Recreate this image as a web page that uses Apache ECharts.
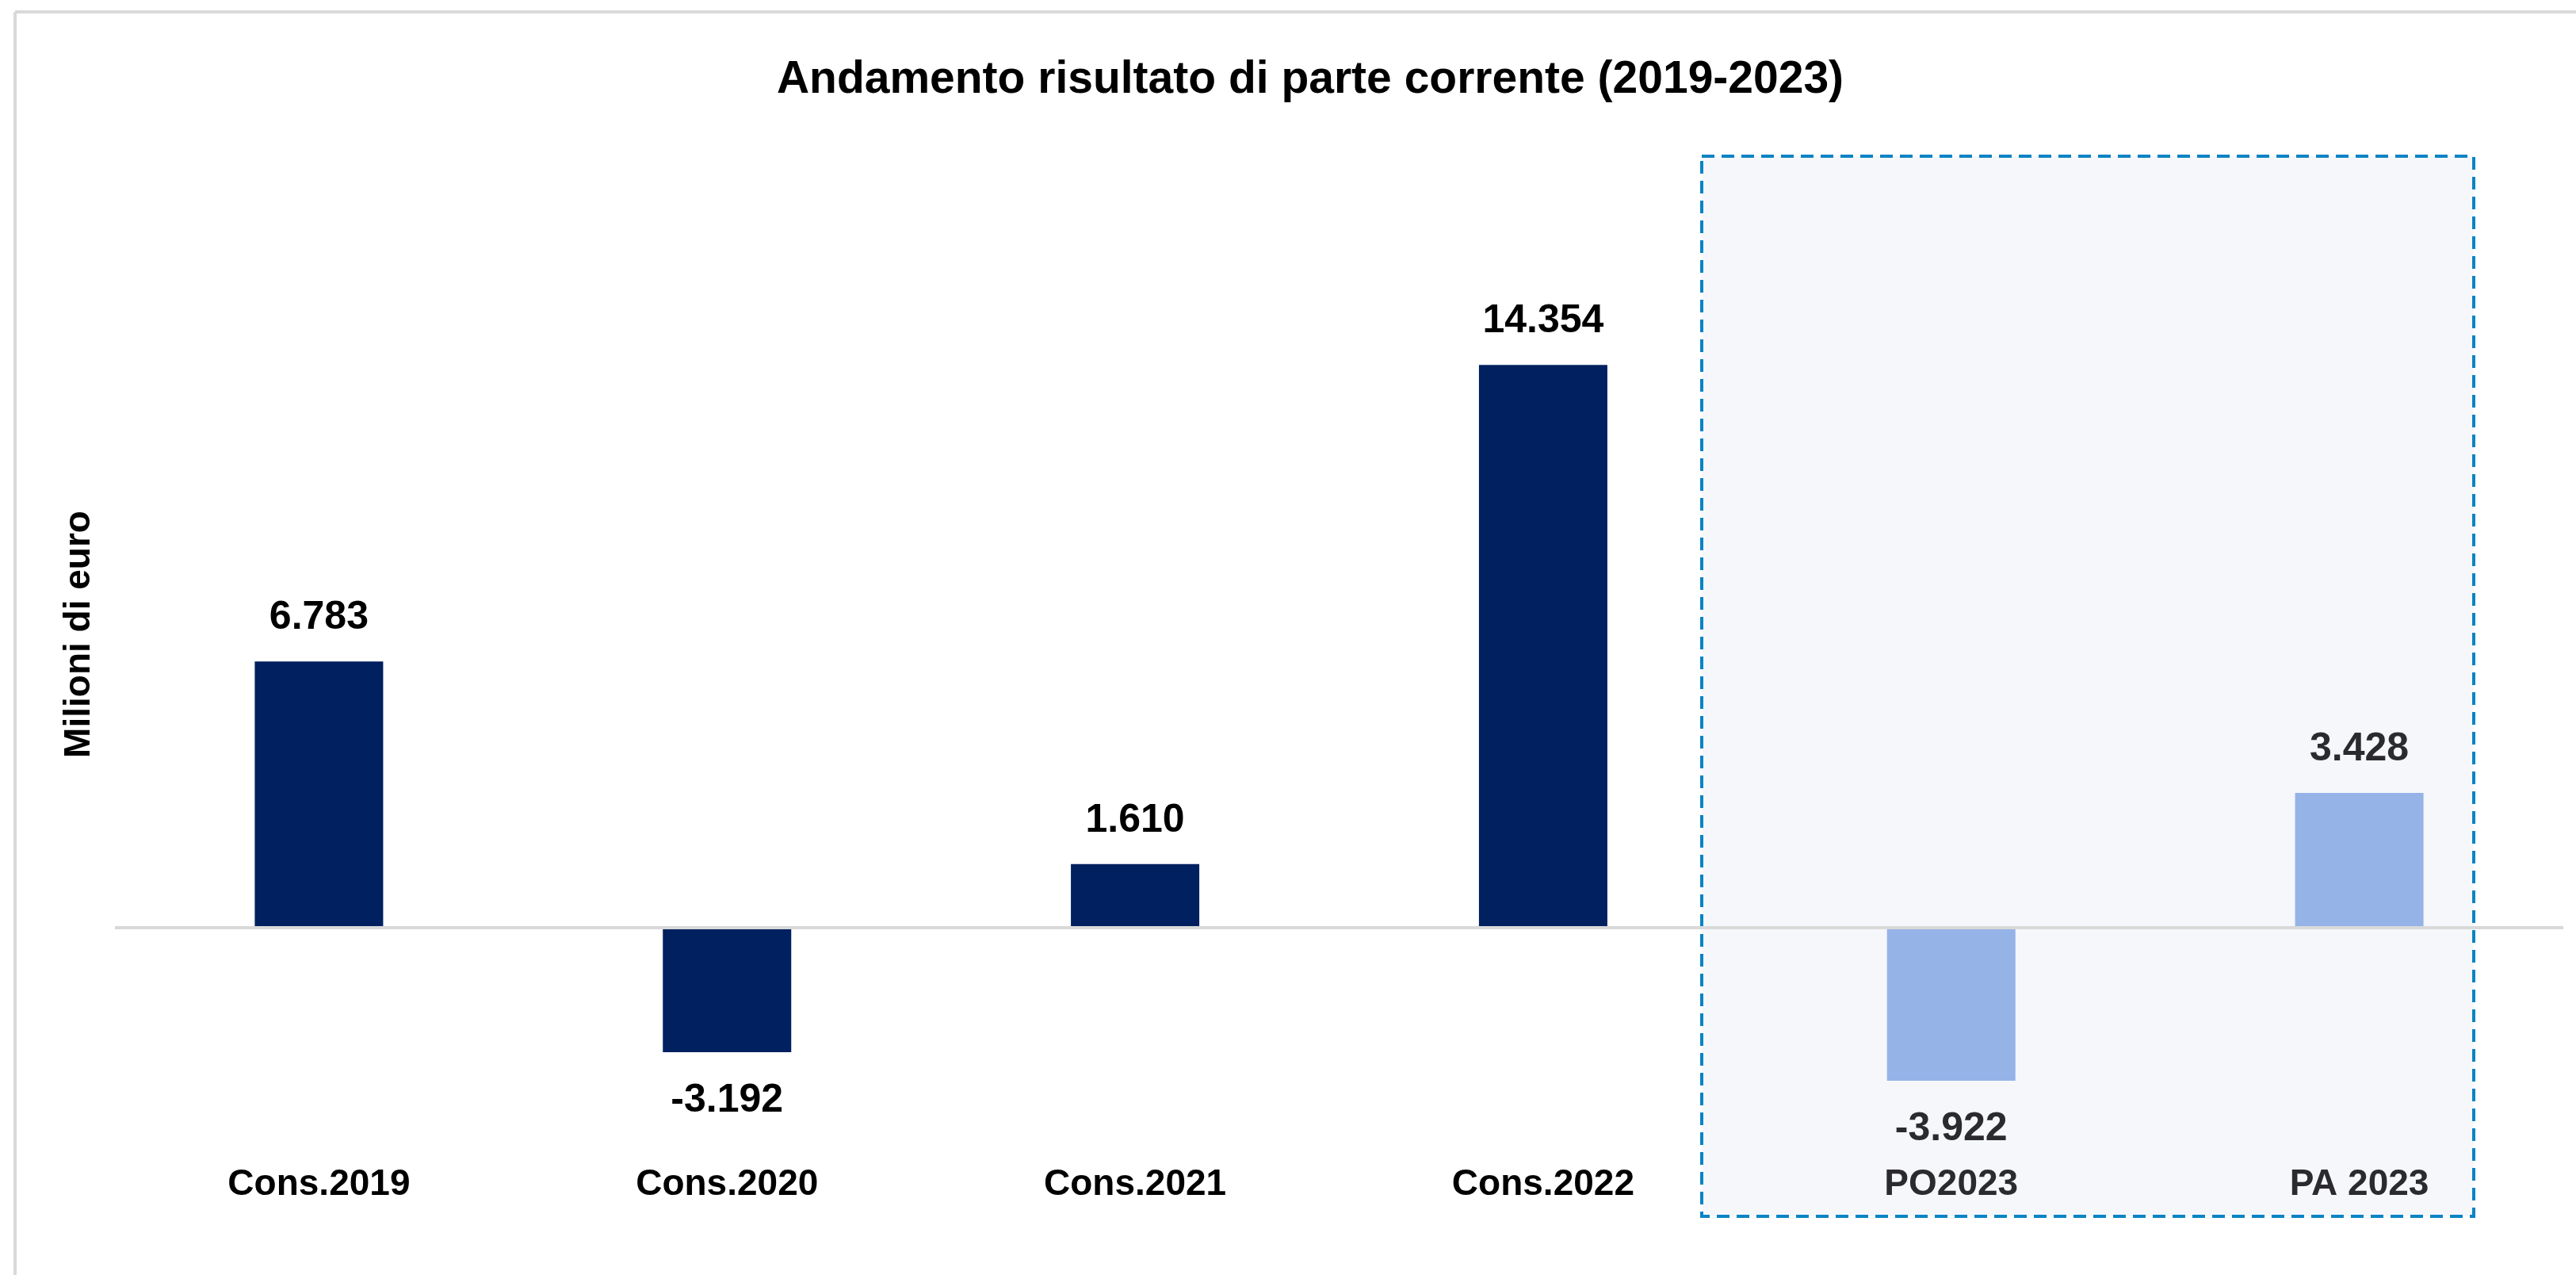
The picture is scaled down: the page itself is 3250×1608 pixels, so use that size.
<!DOCTYPE html>
<html>
<head>
<meta charset="utf-8">
<script src="https://cdn.jsdelivr.net/npm/echarts@6/dist/echarts.min.js"></script>
<style>
html,body{margin:0;padding:0;background:#fff;}
#chart{width:3250px;height:1608px;}
</style>
</head>
<body>
<div id="chart"></div>
<script>
const categories = ['Cons.2019', 'Cons.2020', 'Cons.2021', 'Cons.2022', 'PO2023', 'PA 2023'];
const values = [6.783, -3.192, 1.610, 14.354, -3.922, 3.428];
const projected = [false, false, false, false, true, true];
const labelTexts = ['6.783', '-3.192', '1.610', '14.354', '-3.922', '3.428'];

const DARK = '#002060', LIGHT = '#95B3E7';
const TXT = '#000000', TXT2 = '#2B2B2F';
const FONT = '"Liberation Sans", Arial, sans-serif';

const data = values.map((v, i) => ({
  value: v,
  itemStyle: { color: projected[i] ? LIGHT : DARK },
  label: {
    position: v >= 0 ? 'top' : 'bottom',
    distance: v >= 0 ? 30 : 36,
    color: projected[i] ? TXT2 : TXT,
    formatter: () => labelTexts[i]
  }
}));

const chart = echarts.init(document.getElementById('chart'));
chart.setOption({
  backgroundColor: '#ffffff',
  animation: false,
  title: {
    text: 'Andamento risultato di parte corrente (2019-2023)',
    left: 1648, top: 68, textAlign: 'center',
    textStyle: { fontFamily: FONT, fontWeight: 'bold', fontSize: 57, color: '#000' }
  },
  graphic: [
    { type: 'line', z: 0, shape: { x1: 19, y1: 15, x2: 3250, y2: 15 }, style: { stroke: '#D9D9D9', lineWidth: 4 } },
    { type: 'line', z: 0, shape: { x1: 19, y1: 15, x2: 19, y2: 1608 }, style: { stroke: '#D9D9D9', lineWidth: 4 } },
    { type: 'rect', z: 0, shape: { x: 2147, y: 197, width: 974, height: 1337 },
      style: { fill: '#F5F7FB', stroke: '#0A84C4', lineWidth: 4, lineDash: [16, 9] } },
    { type: 'text', z: 5, x: 100, y: 800, rotation: Math.PI / 2,
      style: { text: 'Milioni di euro', fontFamily: FONT, fontWeight: 'bold', fontSize: 46, fill: '#000',
               textAlign: 'center', textVerticalAlign: 'middle' } }
  ],
  grid: { left: 145, right: 16, top: 379, bottom: 167, containLabel: false },
  xAxis: {
    type: 'category',
    data: categories,
    position: 'bottom',
    axisLine: { show: false, onZero: false },
    axisTick: { show: false },
    axisLabel: {
      margin: 30,
      fontFamily: FONT, fontWeight: 'bold', fontSize: 46,
      color: (val, idx) => projected[idx] ? TXT2 : TXT
    }
  },
  yAxis: {
    type: 'value', min: -5.5, max: 16,
    show: false,
    splitLine: { show: false }
  },
  series: [{
    type: 'bar',
    data: data,
    barWidth: 162,
    z: 3,
    label: { show: true, fontFamily: FONT, fontWeight: 'bold', fontSize: 50 },
    markLine: {
      silent: true, symbol: 'none', label: { show: false },
      lineStyle: { color: '#D9D9D9', width: 4, type: 'solid' },
      data: [{ yAxis: 0 }]
    }
  }]
});
</script>
</body>
</html>
